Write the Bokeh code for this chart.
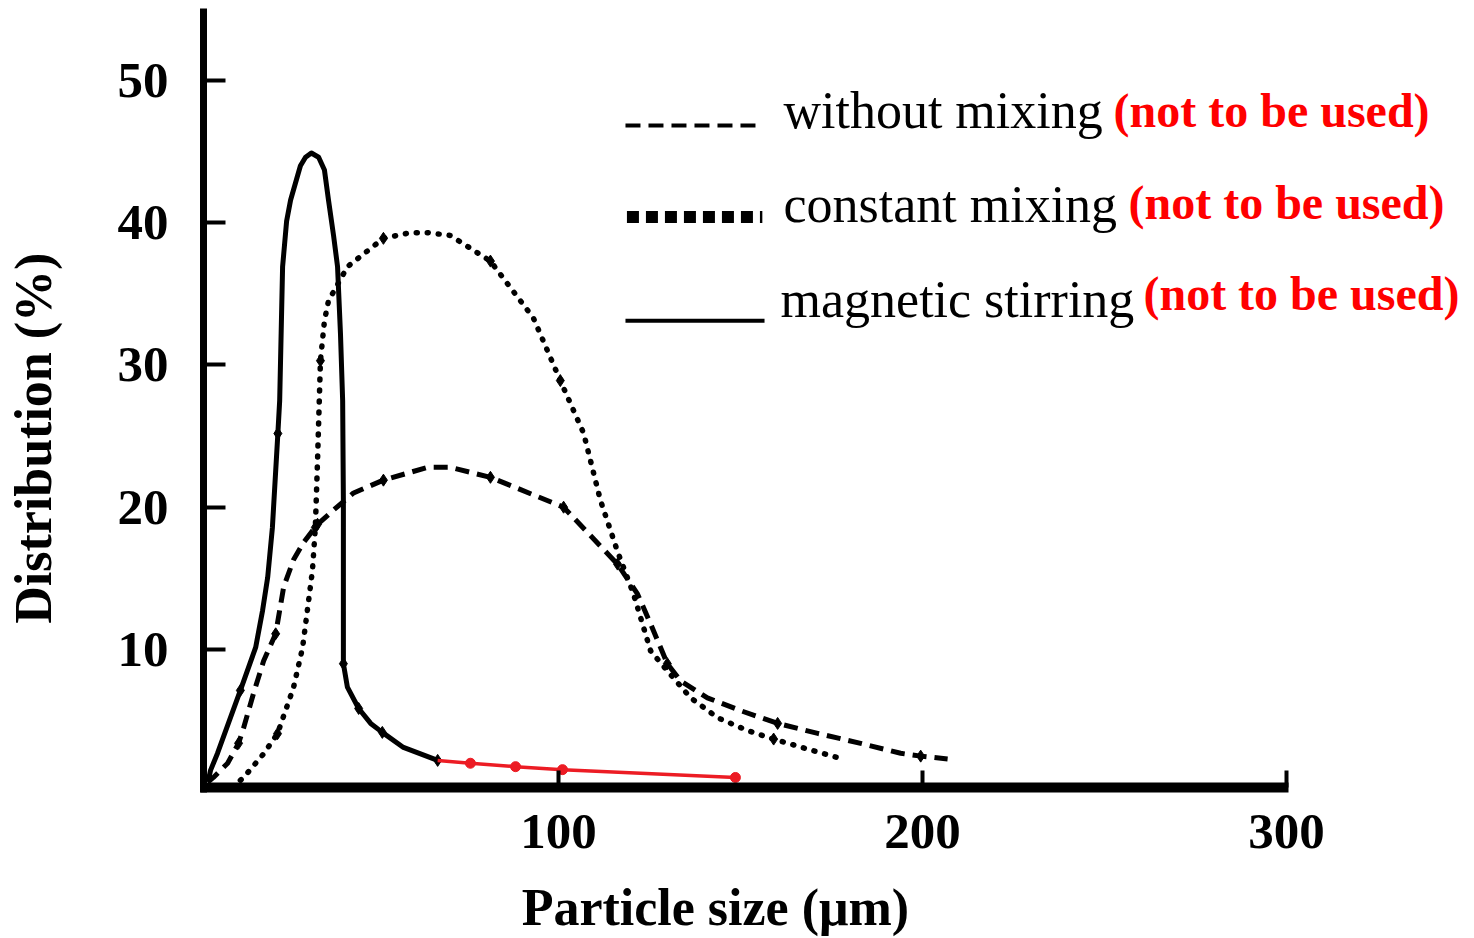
import math
from bokeh.plotting import figure
from bokeh.models import Range1d, Label, FixedTicker
from bokeh.embed import file_html
from bokeh.resources import INLINE

# ---------------- data ----------------
stir_x = [3.8, 4.4, 6.3, 9.3, 12.6, 16.8, 18.7, 20.1, 21.4, 22.9, 23.4, 24.2, 25.3,
          26.4, 29.1, 30.5, 32.1, 34.1, 35.7, 36.8, 38.2, 39.3, 40.1, 40.7, 40.9,
          40.9, 40.9, 42.0, 45.1, 48.4, 51.6, 57.4, 66.8]
stir_y = [0.79, 1.5, 2.69, 4.8, 7.12, 10.14, 12.74, 15.06, 18.58, 25.18, 27.5, 36.9,
          40.1, 41.6, 44.0, 44.6, 44.9, 44.6, 43.7, 41.6, 39.1, 36.9, 32.2, 27.5, 20.5,
          13.4, 9.0, 7.35, 5.85, 4.8, 4.17, 3.11, 2.2]
stir_marks = [4, 9, 26, 28, 30, 32]

red_x = [66.8, 75.8, 88.2, 101.1, 148.6]
red_y = [2.2, 2.0, 1.76, 1.55, 1.0]

wo_x = [3.6, 5.2, 9.1, 12.1, 13.5, 16.2, 19.0, 22.3, 24.5, 27.2, 29.9, 33.8, 38.2,
        43.7, 51.9, 64.0, 70.3, 81.3, 101.4, 116.2, 121.7, 125.3, 129.9, 133.5, 140.9,
        150.0, 160.2, 171.2, 183.0, 194.0, 199.5, 206.9]
wo_y = [0.65, 1.0, 2.0, 3.4, 4.5, 6.9, 9.2, 11.1, 14.4, 16.3, 17.5, 18.8, 19.8, 21.0,
        21.9, 22.8, 22.8, 22.1, 20.0, 16.0, 13.9, 11.8, 9.0, 7.8, 6.6, 5.7, 4.8, 4.1,
        3.4, 2.7, 2.5, 2.3]
wo_marks = [3, 7, 11, 14, 17, 18, 19, 22, 26, 30]

cm_x = [12.6, 13.5, 19.0, 22.8, 27.2, 29.7, 31.0, 32.4, 33.2, 33.8, 34.6, 35.7, 36.8,
        42.0, 51.9, 59.3, 64.0, 70.3, 81.3, 93.1, 100.5, 106.9, 111.5, 116.2, 120.6,
        125.3, 129.9, 136.3, 143.7, 151.9, 159.1, 168.4, 176.6]
cm_y = [0.8, 1.0, 2.67, 4.08, 7.32, 10.14, 12.74, 15.55, 18.58, 23.3, 30.3, 33.1, 34.5,
        36.9, 38.9, 39.3, 39.3, 39.1, 37.3, 33.3, 28.9, 25.2, 20.5, 16.9, 13.9, 9.9,
        8.5, 6.6, 5.2, 4.3, 3.7, 3.0, 2.4]
cm_marks = [3, 8, 10, 14, 18, 20, 30]

x_ticks = [100, 200, 300]
y_ticks = [10, 20, 30, 40, 50]

legend_names = ["without mixing", "constant mixing", "magnetic stirring"]
legend_note = "(not to be used)"
x_title = "Particle size (\u03bcm)"
y_title = "Distribution (%)"

# ---------------- figure ----------------
SERIF = "Liberation Serif"

# axis extent (data units)
X0, X1 = 2.47, 300.5
Y0, Y1 = 0.30, 55.07

p = figure(width=1474, height=938, output_backend="svg", toolbar_location=None,
           x_range=Range1d(-53.30, 351.65), y_range=Range1d(-10.32, 55.62),
           min_border_left=0, min_border_right=0, min_border_top=0,
           min_border_bottom=0)
p.outline_line_color = None
p.grid.visible = False
p.background_fill_color = "white"
p.border_fill_color = "white"

for ax in (p.xaxis[0], p.yaxis[0]):
    ax.axis_line_color = "black"
    ax.major_tick_line_color = "black"
    ax.major_tick_line_width = 4
    ax.major_tick_out = 0
    ax.minor_tick_line_color = None
    ax.major_label_text_font = SERIF
    ax.major_label_text_font_style = "bold"
    ax.major_label_text_font_size = "51px"
    ax.major_label_text_color = "black"

xa = p.xaxis[0]
xa.fixed_location = Y0
xa.bounds = (X0 - 0.9, X1)
xa.axis_line_width = 10
xa.major_tick_in = 17
xa.ticker = FixedTicker(ticks=x_ticks)
xa.major_label_standoff = 28

ya = p.yaxis[0]
ya.fixed_location = X0
ya.bounds = (Y0 - 0.35, Y1)
ya.axis_line_width = 7
ya.major_tick_in = 22
ya.ticker = FixedTicker(ticks=y_ticks)
ya.major_label_standoff = 35

# ---------------- curves ----------------
p.line(wo_x, wo_y, line_color="black", line_width=5, line_dash="14 8",
       line_join="round")
p.line(cm_x, cm_y, line_color="black", line_width=5.5, line_dash="1 10",
       line_cap="round", line_join="round")
p.line(stir_x, stir_y, line_color="black", line_width=5, line_join="round")

p.scatter([wo_x[i] for i in wo_marks], [wo_y[i] for i in wo_marks],
          marker="diamond", size=12, color="black")
p.scatter([cm_x[i] for i in cm_marks], [cm_y[i] for i in cm_marks],
          marker="diamond", size=12, color="black")
p.scatter([stir_x[i] for i in stir_marks], [stir_y[i] for i in stir_marks],
          marker="diamond", size=12, color="black")

p.line(red_x, red_y, line_color="#ec1c24", line_width=3.5)
p.scatter(red_x[1:], red_y[1:], marker="circle", size=10, color="#ec1c24")

# ---------------- legend (drawn as in the figure) ----------------
leg_x0, leg_x1 = 118.4, 156.0
leg_line_y = [46.83, 40.40, 33.10]
p.line([leg_x0, leg_x1], [leg_line_y[0]] * 2, line_color="black", line_width=4,
       line_dash="15 8")
p.line([leg_x0 + 0.4, leg_x1], [leg_line_y[1]] * 2, line_color="black", line_width=12,
       line_dash="12 7")
p.line([leg_x0, leg_x1 + 0.6], [leg_line_y[2]] * 2, line_color="black", line_width=4)

name_x = [161.8, 161.8, 161.0]
name_y = [47.90, 41.26, 34.61]
note_x = [252.5, 256.6, 260.7]
note_y = [47.90, 41.43, 35.03]
for i, name in enumerate(legend_names):
    p.add_layout(Label(x=name_x[i], y=name_y[i], text=name, text_font=SERIF,
                       text_font_size="52px", text_color="black",
                       text_baseline="alphabetic", text_align="left"))
    p.add_layout(Label(x=note_x[i], y=note_y[i], text=legend_note, text_font=SERIF,
                       text_font_size="48px", text_font_style="bold",
                       text_color="#ff0000", text_baseline="alphabetic",
                       text_align="left"))

# ---------------- axis titles ----------------
p.add_layout(Label(x=143.1, y=-8.15, text=x_title, text_font=SERIF,
                   text_font_size="52px", text_font_style="bold", text_color="black",
                   text_align="center", text_baseline="alphabetic"))
p.add_layout(Label(x=-44.3, y=24.85, text=y_title, text_font=SERIF,
                   text_font_size="52px", text_font_style="bold", text_color="black",
                   text_align="center", text_baseline="middle", angle=math.pi / 2))

open("out.html", "w").write(file_html(p, INLINE))
